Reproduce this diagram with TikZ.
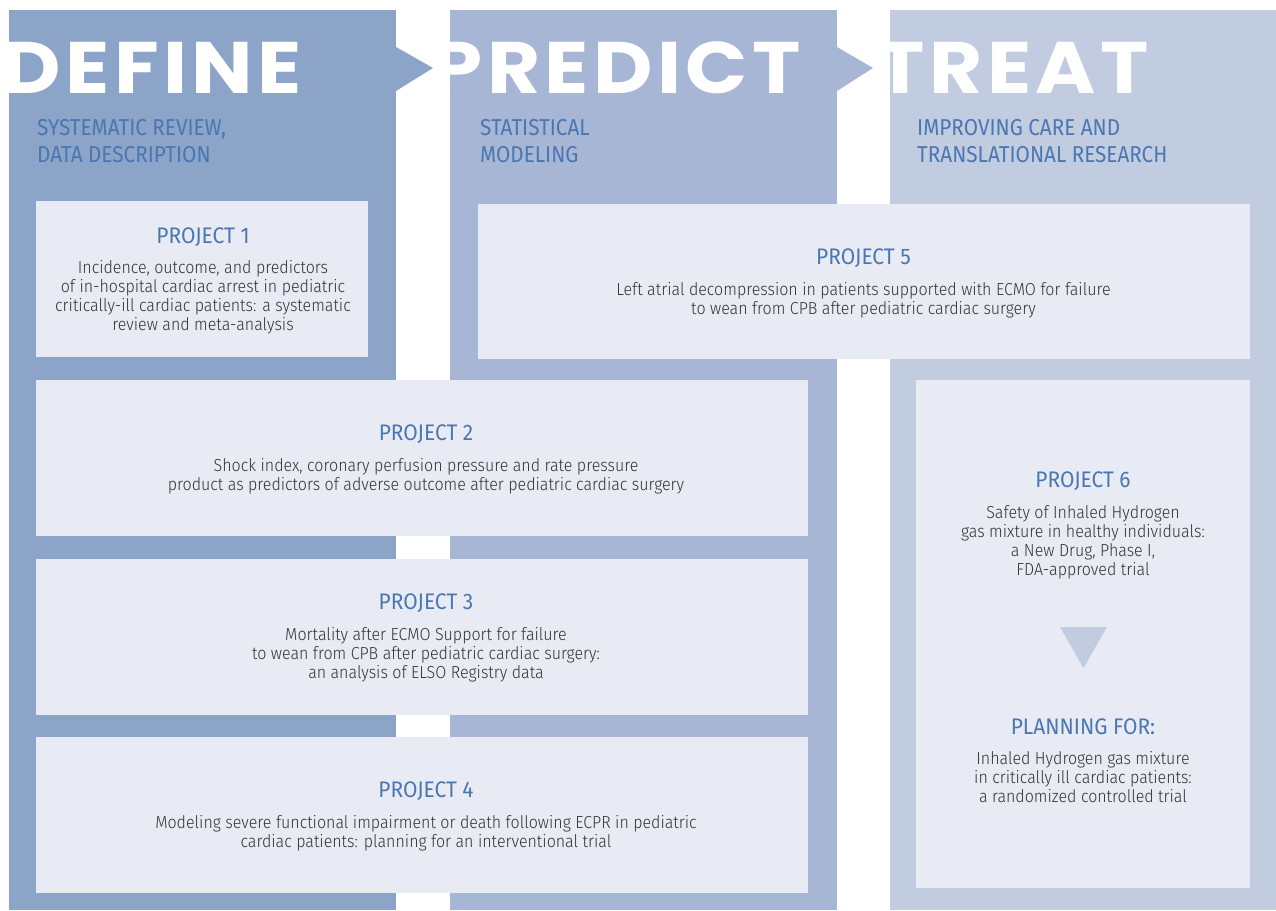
\documentclass[tikz,border=0pt]{standalone}
\usepackage{fontspec}
\setmainfont{Fira Sans}
\newfontfamily\bodyfont[FakeStretch=0.92]{Fira Sans Light}
\newfontfamily\titlefont[FakeStretch=0.93]{Fira Sans}
\newfontfamily\subfont[FakeStretch=0.90]{Fira Sans}
\newfontfamily\bigfont[FakeStretch=1.12,LetterSpace=6]{Poppins}
\definecolor{defc}{HTML}{8BA4C8}
\definecolor{prec}{HTML}{A8B6D5}
\definecolor{trec}{HTML}{C1CCE1}
\definecolor{boxc}{HTML}{E8EBF3}
\definecolor{bluec}{HTML}{4A77B1}
\definecolor{textc}{HTML}{333333}
\tikzset{
  pbox/.style={fill=boxc, draw=none, inner sep=0pt, anchor=north west},
  bigword/.style={text=white, inner sep=0pt, anchor=base east, font=\bigfont\bfseries\fontsize{73}{80}\selectfont},
  subt/.style={text=bluec, inner sep=0pt, anchor=north west, align=left, font=\subfont\fontsize{23}{27}\selectfont},
  ptitle/.style={text=bluec, inner sep=0pt, anchor=base, font=\titlefont\fontsize{22.5}{27}\selectfont},
  pbody/.style={text=textc, inner sep=0pt, anchor=north, align=center, font=\bodyfont\fontsize{17.4}{19}\selectfont},
}
\begin{document}
\begin{tikzpicture}[x=1pt,y=-1pt]
\useasboundingbox (0,0) rectangle (1276,910);
% columns
\fill[defc] (9,10) rectangle (396,910);
\fill[prec] (450,10) rectangle (837,910);
\fill[trec] (890,10) rectangle (1276,910);
% big words
\node[bigword] (wdef) at (302,93) {DEFINE};
\node[bigword] (wpre) at (801,93) {PREDICT};
\node[bigword] (wtre) at (1149,93) {TREAT};
% chevrons
\fill[defc] (396,47) -- (433,68) -- (396,91) -- cycle;
\fill[prec] (837,47) -- (873,68) -- (837,91) -- cycle;
% subtitles
\node[subt] (sdef) at (37,115) {\rule{0pt}{20pt}SYSTEMATIC REVIEW,\\DATA DESCRIPTION};
\node[subt] (spre) at (480,115) {\rule{0pt}{20pt}STATISTICAL\\MODELING};
\node[subt] (stre) at (917,115) {\rule{0pt}{20pt}IMPROVING CARE AND\\TRANSLATIONAL RESEARCH};
% boxes
\node[pbox, minimum width=332pt, minimum height=156pt] (p1) at (36,201) {};
\node[pbox, minimum width=772pt, minimum height=155pt] (p5) at (478,204) {};
\node[pbox, minimum width=772pt, minimum height=156pt] (p2) at (36,380) {};
\node[pbox, minimum width=772pt, minimum height=156pt] (p3) at (36,559) {};
\node[pbox, minimum width=772pt, minimum height=156pt] (p4) at (36,737) {};
\node[pbox, minimum width=334pt, minimum height=508pt] (p6) at (916,380) {};
% project 1
\node[ptitle] (t1) at (203,243.5) {PROJECT 1};
\node[pbody] (b1) at (203,257) {\rule{0pt}{16pt}Incidence, outcome, and predictors\\of in-hospital cardiac arrest in pediatric\\critically-ill cardiac patients: a systematic\\review and meta-analysis};
% project 5
\node[ptitle] (t5) at (863.5,264.5) {PROJECT 5};
\node[pbody] (b5) at (863.5,279) {\rule{0pt}{16pt}Left atrial decompression in patients supported with ECMO for failure\\to wean from CPB after pediatric cardiac surgery};
% project 2
\node[ptitle] (t2) at (426,440.5) {PROJECT 2};
\node[pbody] (b2) at (426,455) {\rule{0pt}{16pt}Shock index, coronary perfusion pressure and rate pressure\\product as predictors of adverse outcome after pediatric cardiac surgery};
% project 3
\node[ptitle] (t3) at (426,609.5) {PROJECT 3};
\node[pbody] (b3) at (426,624) {\rule{0pt}{16pt}Mortality after ECMO Support for failure\\to wean from CPB after pediatric cardiac surgery:\\an analysis of ELSO Registry data};
% project 4
\node[ptitle] (t4) at (426,797.5) {PROJECT 4};
\node[pbody] (b4) at (426,812) {\rule{0pt}{16pt}Modeling severe functional impairment or death following ECPR in pediatric\\cardiac patients: planning for an interventional trial};
% project 6
\node[ptitle] (t6) at (1083,487.5) {PROJECT 6};
\node[pbody] (b6) at (1083,502) {\rule{0pt}{16pt}Safety of Inhaled Hydrogen\\gas mixture in healthy individuals:\\a New Drug, Phase I,\\FDA-approved trial};
\fill[trec] (1060,627) -- (1107,627) -- (1083.5,668) -- cycle;
\node[ptitle] (t7) at (1083,734) {PLANNING FOR:};
\node[pbody] (b7) at (1083,748) {\rule{0pt}{16pt}Inhaled Hydrogen gas mixture\\in critically ill cardiac patients:\\a randomized controlled trial};
\end{tikzpicture}
\end{document}
